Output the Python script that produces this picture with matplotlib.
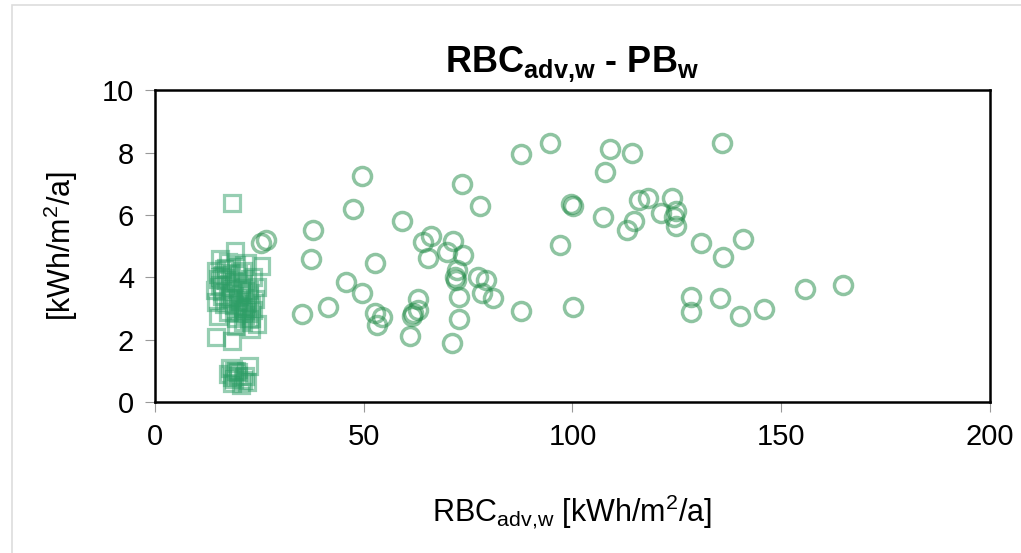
import matplotlib
matplotlib.use("Agg")
import matplotlib.pyplot as plt
from matplotlib.patches import Rectangle

plt.rcParams['font.family'] = ['Liberation Sans', 'DejaVu Sans']
plt.rcParams['mathtext.default'] = 'regular'

# circles: RBC_adv,w vs PB_w
circ_x = [49.5, 87.6, 47.5, 73.5, 77.8, 37.9, 59.2, 64.3, 66.1, 71.5, 69.9, 73.8,
          65.5, 37.3, 52.7, 72.3, 71.9, 72.0, 77.4, 79.4, 45.7, 49.7, 72.8, 78.4,
          80.9, 87.6, 63.1, 63.1, 61.9, 61.5, 41.5, 35.3, 52.7, 54.3, 53.1, 72.7,
          61.1, 71.2, 94.6, 109.1, 114.3, 107.8, 135.9, 99.6, 100.2, 107.2, 115.9,
          118.2, 123.8, 121.2, 124.8, 124.3, 124.8, 114.7, 113.1, 97.0, 130.7,
          140.8, 136.0, 100.2, 128.5, 128.5, 135.3, 140.1, 145.9, 155.7, 164.7,
          25.4, 26.6]
circ_y = [7.25, 7.95, 6.18, 6.99, 6.29, 5.53, 5.81, 5.14, 5.32, 5.16, 4.80, 4.71,
          4.63, 4.57, 4.47, 4.23, 4.02, 3.91, 4.02, 3.91, 3.84, 3.48, 3.38, 3.48,
          3.35, 2.93, 3.29, 2.95, 2.84, 2.77, 3.06, 2.82, 2.84, 2.73, 2.47, 2.65,
          2.12, 1.90, 8.31, 8.11, 7.97, 7.36, 8.31, 6.35, 6.30, 5.94, 6.47,
          6.55, 6.55, 6.07, 6.13, 5.94, 5.64, 5.81, 5.53, 5.03, 5.09,
          5.22, 4.64, 3.06, 3.38, 2.88, 3.35, 2.77, 2.98, 3.62, 3.76,
          5.09, 5.21]

# squares
sq_x = [18.5, 19.2, 15.5, 17.5, 22.0, 25.3, 14.5, 16.5, 18.0, 20.0, 23.5, 15.0,
        17.0, 19.0, 21.0, 24.5, 14.3, 16.0, 18.5, 20.5, 22.5, 24.0, 14.5, 16.5,
        19.0, 21.0, 22.0, 23.5, 17.5, 20.0, 21.5, 15.0, 22.5, 24.5, 21.0, 19.5,
        23.0, 14.5, 18.5, 16.0, 20.5, 22.0, 18.0, 15.5, 21.5, 23.0,
        17.0, 19.5, 21.0, 22.5, 15.5, 18.0, 20.0, 21.5, 23.0, 17.5, 19.5, 21.0,
        22.0, 16.0, 20.5,
        18.0, 19.5, 22.5, 17.5, 20.0, 19.0, 21.0, 18.5, 20.5, 22.0, 19.0, 20.0,
        18.5, 21.5]
sq_y = [6.37, 4.85, 4.60, 4.50, 4.45, 4.35, 4.20, 4.25, 4.15, 4.10, 4.00, 3.95,
        3.90, 3.85, 3.80, 3.70, 3.60, 3.55, 3.50, 3.45, 3.40, 3.30, 3.20, 3.15,
        3.10, 3.05, 3.00, 2.95, 2.90, 2.85, 2.80, 2.75, 2.65, 2.50, 2.55, 2.45,
        2.35, 2.10, 1.95, 4.05, 3.65, 3.20, 3.35, 3.75, 2.95, 2.70,
        4.30, 4.40, 4.20, 3.60, 4.00, 3.70, 3.25, 3.55, 3.10, 3.30, 2.70, 2.90,
        3.85, 3.40, 3.00,
        1.10, 1.00, 1.15, 0.90, 0.85, 0.75, 0.70, 0.60, 0.55, 0.65, 1.00, 0.95,
        0.80, 0.85]

fig = plt.figure(figsize=(10.21, 5.53), dpi=100)
ax = fig.add_axes([0.1518, 0.273, 0.8178, 0.564])

fig.patches.append(Rectangle((12 / 1021, -0.1), 1.2, 1.1 - 5 / 553,
                             transform=fig.transFigure, fill=False,
                             edgecolor='#dddddd', linewidth=1.2))

ax.plot(sq_x, sq_y, linestyle='none', marker='s', markersize=11.5,
        markerfacecolor='none', markeredgecolor='#2E9E66', markeredgewidth=2.3,
        alpha=0.5)
ax.plot(circ_x, circ_y, linestyle='none', marker='o', markersize=13,
        markerfacecolor='none', markeredgecolor='#1F8A45', markeredgewidth=2.5,
        alpha=0.5)

ax.set_xlim(0, 200)
ax.set_ylim(0, 10)
ax.set_xticks([0, 50, 100, 150, 200])
ax.set_yticks([0, 2, 4, 6, 8, 10])
for s in ax.spines.values():
    s.set_linewidth(1.8)
    s.set_color('black')
ax.tick_params(axis='both', direction='out', length=7, width=0.8,
               color='#999999', labelsize=21, pad=8)

ax.set_title(r'RBC$_{adv{,}w}$ - PB$_{w}$', fontsize=26, fontweight='bold', pad=13)
ax.set_xlabel(r'RBC$_{adv{,}w}$ [kWh/m$^2$/a]', fontsize=22, labelpad=30)
ax.set_ylabel(r'[kWh/m$^2$/a]', fontsize=22, labelpad=16)

fig.savefig('out.png', dpi=100)
